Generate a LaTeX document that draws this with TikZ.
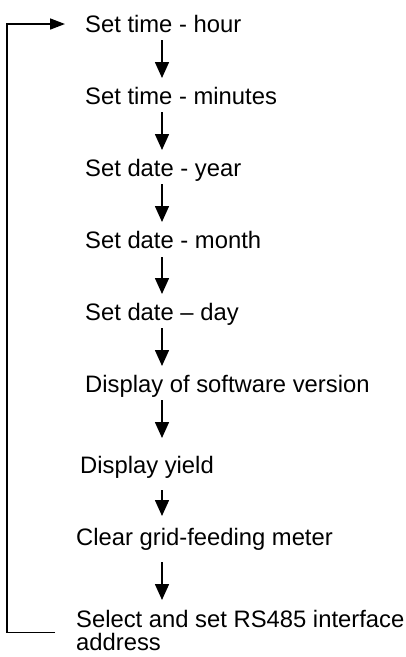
\documentclass[tikz,border=0pt]{standalone}
\usepackage{fontspec}
\setmainfont{Liberation Sans}
\usetikzlibrary{arrows.meta}
\begin{document}
\begin{tikzpicture}[x=1pt,y=-1pt,
  lbl/.style={anchor=base west,inner sep=0pt,font=\fontsize{23.8}{23.5}\selectfont},
  flow/.style={line width=1.6pt,-{Triangle[length=16pt,width=14pt]}},
  back/.style={line width=1.6pt,-{Triangle[length=15pt,width=11pt]}}]
\useasboundingbox (0,0) rectangle (405,657);
% menu entries, top to bottom
\node[lbl] (hour)  at (85,32)  {Set time - hour};
\node[lbl] (mins)  at (85,104) {Set time - minutes};
\node[lbl] (year)  at (85,176) {Set date - year};
\node[lbl] (month) at (85,248) {Set date - month};
\node[lbl] (day)   at (85,320) {Set date – day};
\node[lbl] (soft)  at (85,392) {Display of software version};
\node[lbl] (yield) at (80,473) {Display yield};
\node[lbl] (clear) at (76,545) {Clear grid-feeding meter};
\node[lbl] (rs)    at (76,627) {\vtop{\hbox{Select and set RS485 interface}\hbox{address}}};
% column of the down arrows and of the return line
\coordinate (ax) at (162,0);
\coordinate (lx) at (7,0);
% step arrows
\draw[flow] ([yshift=-8pt]hour.base -| ax)  -- ([yshift=26pt]mins.base -| ax);
\draw[flow] ([yshift=-8pt]mins.base -| ax)  -- ([yshift=26pt]year.base -| ax);
\draw[flow] ([yshift=-8pt]year.base -| ax)  -- ([yshift=26pt]month.base -| ax);
\draw[flow] ([yshift=-9pt]month.base -| ax) -- ([yshift=26pt]day.base -| ax);
\draw[flow] ([yshift=-8pt]day.base -| ax)   -- ([yshift=26pt]soft.base -| ax);
\draw[flow] ([yshift=-8pt]soft.base -| ax)  -- ([yshift=35pt]yield.base -| ax);
\draw[flow] ([yshift=-17pt]yield.base -| ax) -- ([yshift=29pt]clear.base -| ax);
\draw[flow] ([yshift=-17pt]clear.base -| ax) -- ([yshift=27pt]rs.base -| ax);
% return from the last entry to the first
\coordinate (rsend) at ([xshift=-21pt,yshift=-5.5pt]rs.base west);
\draw[back] (rsend) -- (rsend -| lx) -- ([yshift=8pt]hour.base -| lx) -- ([xshift=-20pt,yshift=8pt]hour.base west);
\end{tikzpicture}
\end{document}
